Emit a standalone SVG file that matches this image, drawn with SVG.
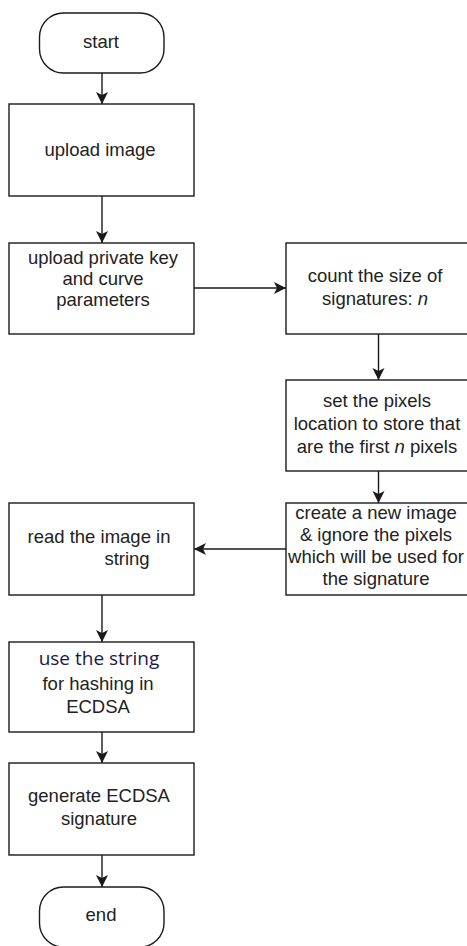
<svg xmlns="http://www.w3.org/2000/svg" width="467" height="946" viewBox="0 0 467 946">
<style>
.box{fill:#fff;stroke:#1a1a1a;stroke-width:1.4}
.t{font-family:"Liberation Sans",Arial,sans-serif;font-size:18.5px;fill:#222;text-anchor:middle}
.os{font-family:"Open Sans","Liberation Sans",sans-serif;font-size:19px;fill:#1a1a4a}
.con{fill:none;stroke:#1a1a1a;stroke-width:1.4}
</style>
<defs>
<marker id="arr" markerUnits="userSpaceOnUse" markerWidth="13" markerHeight="13" refX="12" refY="6.5" orient="auto">
<path d="M0,0.5 L12,6.5 L0,12.5 L3,6.5 z" fill="#1a1a1a"/>
</marker>
</defs>
<rect width="467" height="946" fill="#fff"/>
<g id="connectors">
<line class="con" x1="102" y1="73" x2="102" y2="104" marker-end="url(#arr)"/>
<line class="con" x1="102" y1="196" x2="102" y2="243" marker-end="url(#arr)"/>
<line class="con" x1="194" y1="288" x2="286" y2="288" marker-end="url(#arr)"/>
<line class="con" x1="378.5" y1="334" x2="378.5" y2="380" marker-end="url(#arr)"/>
<line class="con" x1="378.5" y1="471" x2="378.5" y2="503" marker-end="url(#arr)"/>
<line class="con" x1="286" y1="549" x2="194" y2="549" marker-end="url(#arr)"/>
<line class="con" x1="102" y1="595" x2="102" y2="642" marker-end="url(#arr)"/>
<line class="con" x1="102" y1="732" x2="102" y2="763" marker-end="url(#arr)"/>
<line class="con" x1="102" y1="855" x2="102" y2="887" marker-end="url(#arr)"/>
</g>
<g id="start">
<rect class="box" x="39.5" y="13" width="124.5" height="60" rx="24" ry="24"/>
<text class="t" x="101" y="48">start</text>
</g>
<g id="upload-image">
<rect class="box" x="9" y="104" width="185" height="92"/>
<text class="t" x="100" y="156">upload image</text>
</g>
<g id="upload-key">
<rect class="box" x="9" y="243" width="185" height="91"/>
<text class="t" x="103" y="264">upload private key</text>
<text class="t" x="103" y="285">and curve</text>
<text class="t" x="103" y="306">parameters</text>
</g>
<g id="count-size">
<rect class="box" x="286" y="243" width="185" height="91"/>
<text class="t" x="375" y="282">count the size of</text>
<text class="t" x="375" y="305">signatures: <tspan font-style="italic">n</tspan></text>
</g>
<g id="set-pixels">
<rect class="box" x="286" y="380" width="185" height="91"/>
<text class="t" x="377" y="407">set the pixels</text>
<text class="t" x="377" y="430">location to store that</text>
<text class="t" x="377" y="453">are the first <tspan font-style="italic">n</tspan> pixels</text>
</g>
<g id="create-image">
<rect class="box" x="286" y="503" width="185" height="92"/>
<text class="t" x="376" y="519">create a new image</text>
<text class="t" x="376" y="541">&amp; ignore the pixels</text>
<text class="t" x="376" y="563">which will be used for</text>
<text class="t" x="376" y="585">the signature</text>
</g>
<g id="read-image">
<rect class="box" x="9" y="503" width="185" height="92"/>
<text class="t" x="99" y="543">read the image in</text>
<text class="t" x="127" y="565">string</text>
</g>
<g id="use-string">
<rect class="box" x="9" y="642" width="185" height="90"/>
<text class="t os" x="99" y="665">use the string</text>
<text class="t" x="98" y="690">for hashing in</text>
<text class="t" x="98" y="713">ECDSA</text>
</g>
<g id="generate">
<rect class="box" x="9" y="763" width="185" height="92"/>
<text class="t" x="99" y="802">generate ECDSA</text>
<text class="t" x="99" y="825">signature</text>
</g>
<g id="end">
<rect class="box" x="39.5" y="887" width="124.5" height="60" rx="24" ry="24"/>
<text class="t" x="101" y="921">end</text>
</g>
</svg>
